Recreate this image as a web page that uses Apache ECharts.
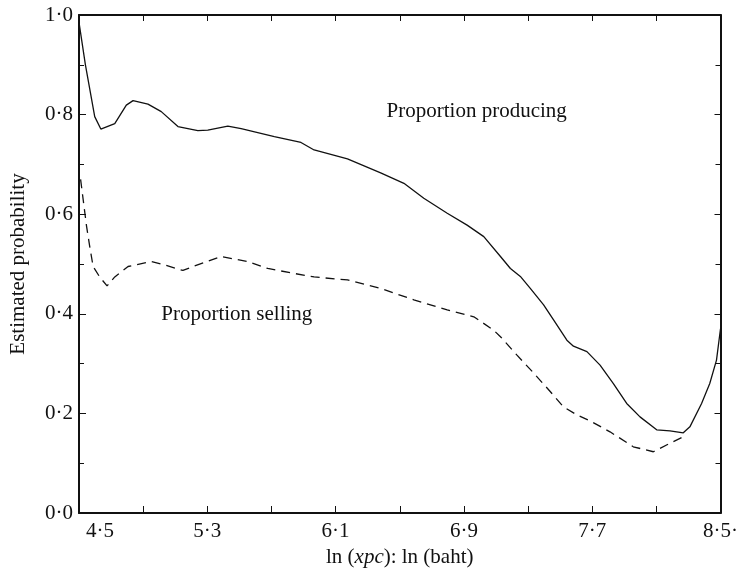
<!DOCTYPE html>
<html>
<head>
<meta charset="utf-8">
<script src="https://cdn.jsdelivr.net/npm/echarts@6/dist/echarts.min.js"></script>
<style>
  html, body { margin: 0; padding: 0; background: #fff; }
  #chart { width: 741px; height: 573px; }
</style>
</head>
<body>
<div id="chart"></div>
<script>
// ln(per-capita expenditure) grid for each curve
const producingX = [4.50, 4.54, 4.598, 4.636, 4.723, 4.795, 4.837, 4.930, 5.013, 5.117, 5.241, 5.303,
  5.428, 5.511, 5.718, 5.884, 5.966, 6.174, 6.381, 6.526, 6.650, 6.796, 6.920, 7.024, 7.128, 7.190,
  7.252, 7.314, 7.397, 7.459, 7.542, 7.583, 7.667, 7.749, 7.832, 7.915, 7.998, 8.102, 8.185, 8.268,
  8.309, 8.382, 8.433, 8.475, 8.50];
const producingY = [0.985, 0.90, 0.796, 0.771, 0.782, 0.819, 0.828, 0.821, 0.806, 0.776, 0.768, 0.769,
  0.777, 0.772, 0.756, 0.744, 0.729, 0.711, 0.683, 0.662, 0.632, 0.602, 0.578, 0.555, 0.515, 0.491,
  0.475, 0.451, 0.418, 0.388, 0.347, 0.335, 0.324, 0.297, 0.260, 0.220, 0.193, 0.167, 0.165, 0.161,
  0.173, 0.220, 0.260, 0.307, 0.370];

const sellingX = [4.51, 4.547, 4.567, 4.588, 4.629, 4.675, 4.723, 4.806, 4.951, 5.034, 5.148, 5.220,
  5.386, 5.552, 5.677, 5.842, 5.966, 6.174, 6.381, 6.588, 6.796, 6.962, 7.086, 7.128, 7.231, 7.335,
  7.438, 7.521, 7.604, 7.687, 7.811, 7.956, 8.081, 8.185, 8.268];
const sellingY = [0.670, 0.576, 0.535, 0.495, 0.474, 0.456, 0.474, 0.495, 0.505, 0.498, 0.487, 0.496,
  0.515, 0.505, 0.491, 0.481, 0.474, 0.468, 0.451, 0.428, 0.408, 0.394, 0.367, 0.354, 0.317, 0.281,
  0.244, 0.213, 0.197, 0.185, 0.163, 0.133, 0.123, 0.140, 0.153];

// tick labels (every second x tick is labelled)
const xTickLabels = ['4·5', '5·3', '6·1', '6·9', '7·7', '8·5·'];
const yTickLabels = ['0·0', '0·2', '0·4', '0·6', '0·8', '1·0'];

const xMin = 4.5, xMax = 8.5, xStep = 0.4;

const FONT = 'Liberation Serif';
const INK = '#111';

function pairs(xs, ys) { return xs.map((x, i) => [x, ys[i]]); }

function xLabel(value) {
  const k = Math.round((value - xMin) / xStep);
  if (k % 2 !== 0) return '';
  const t = xTickLabels[k / 2];
  return k === 0 ? '{first|' + t + '}' : t;
}
function yLabel(value) {
  const k = Math.round(value / 0.2);
  return yTickLabels[k] !== undefined ? yTickLabels[k] : '';
}

const frameLine = { show: true, onZero: false, lineStyle: { color: INK, width: 2 } };
const tickStyle = { color: INK, width: 1 };

const chart = echarts.init(document.getElementById('chart'), null, { renderer: 'canvas' });

chart.setOption({
  backgroundColor: '#fff',
  animation: false,
  grid: { left: 77, right: 18, top: 15, bottom: 60, containLabel: false },
  xAxis: [
    {
      type: 'value', position: 'bottom', min: xMin, max: xMax, interval: xStep,
      axisLine: frameLine,
      axisTick: { show: true, inside: true, length: 7, lineStyle: tickStyle },
      splitLine: { show: false },
      axisLabel: {
        formatter: xLabel, margin: 8, color: INK, fontFamily: FONT, fontSize: 21,
        showMinLabel: true, showMaxLabel: true, alignMinLabel: 'left',
        rich: { first: { fontFamily: FONT, fontSize: 21, color: INK, padding: [0, 0, 0, 7] } }
      },
      name: 'ln ({i|xpc}): ln (baht)',
      nameLocation: 'middle', nameGap: 33,
      nameTextStyle: {
        color: INK, fontFamily: FONT, fontSize: 21,
        rich: { i: { fontStyle: 'italic', fontFamily: FONT, fontSize: 21, color: INK } }
      }
    },
    {
      type: 'value', position: 'top', min: xMin, max: xMax, interval: xStep,
      axisLine: frameLine,
      axisTick: { show: true, inside: true, length: 6, lineStyle: tickStyle },
      axisLabel: { show: false }, splitLine: { show: false }
    }
  ],
  yAxis: [
    {
      type: 'value', position: 'left', min: 0, max: 1, interval: 0.2,
      axisLine: frameLine,
      axisTick: { show: true, inside: true, length: 7, lineStyle: tickStyle },
      minorTick: { show: true, splitNumber: 2, length: 5, lineStyle: tickStyle },
      splitLine: { show: false },
      axisLabel: { formatter: yLabel, margin: 6, color: INK, fontFamily: FONT, fontSize: 21 },
      name: 'Estimated probability',
      nameLocation: 'middle', nameGap: 50,
      nameTextStyle: { color: INK, fontFamily: FONT, fontSize: 21 }
    },
    {
      type: 'value', position: 'right', min: 0, max: 1, interval: 0.2,
      axisLine: frameLine,
      axisTick: { show: true, inside: true, length: 6, lineStyle: tickStyle },
      minorTick: { show: true, splitNumber: 2, length: 5, lineStyle: tickStyle },
      axisLabel: { show: false }, splitLine: { show: false }
    }
  ],
  series: [
    {
      name: 'Proportion producing', type: 'line', xAxisIndex: 0, yAxisIndex: 0,
      data: pairs(producingX, producingY), showSymbol: false, smooth: false,
      lineStyle: { color: INK, width: 1.3 }
    },
    {
      name: 'Proportion selling', type: 'line', xAxisIndex: 0, yAxisIndex: 0,
      data: pairs(sellingX, sellingY), showSymbol: false, smooth: false,
      lineStyle: { color: INK, width: 1.3, type: [9, 6] }
    }
  ]
});

// curve annotations, anchored in data space
function note(text, x, y) {
  const p = chart.convertToPixel({ xAxisIndex: 0, yAxisIndex: 0 }, [x, y]);
  return {
    type: 'text', x: p[0], y: p[1],
    style: { text: text, fill: INK, font: '21px "' + FONT + '"', textAlign: 'left', textVerticalAlign: 'middle' }
  };
}
chart.setOption({
  graphic: [
    note('Proportion producing', 6.418, 0.807),
    note('Proportion selling', 5.013, 0.398)
  ]
});
</script>
</body>
</html>
